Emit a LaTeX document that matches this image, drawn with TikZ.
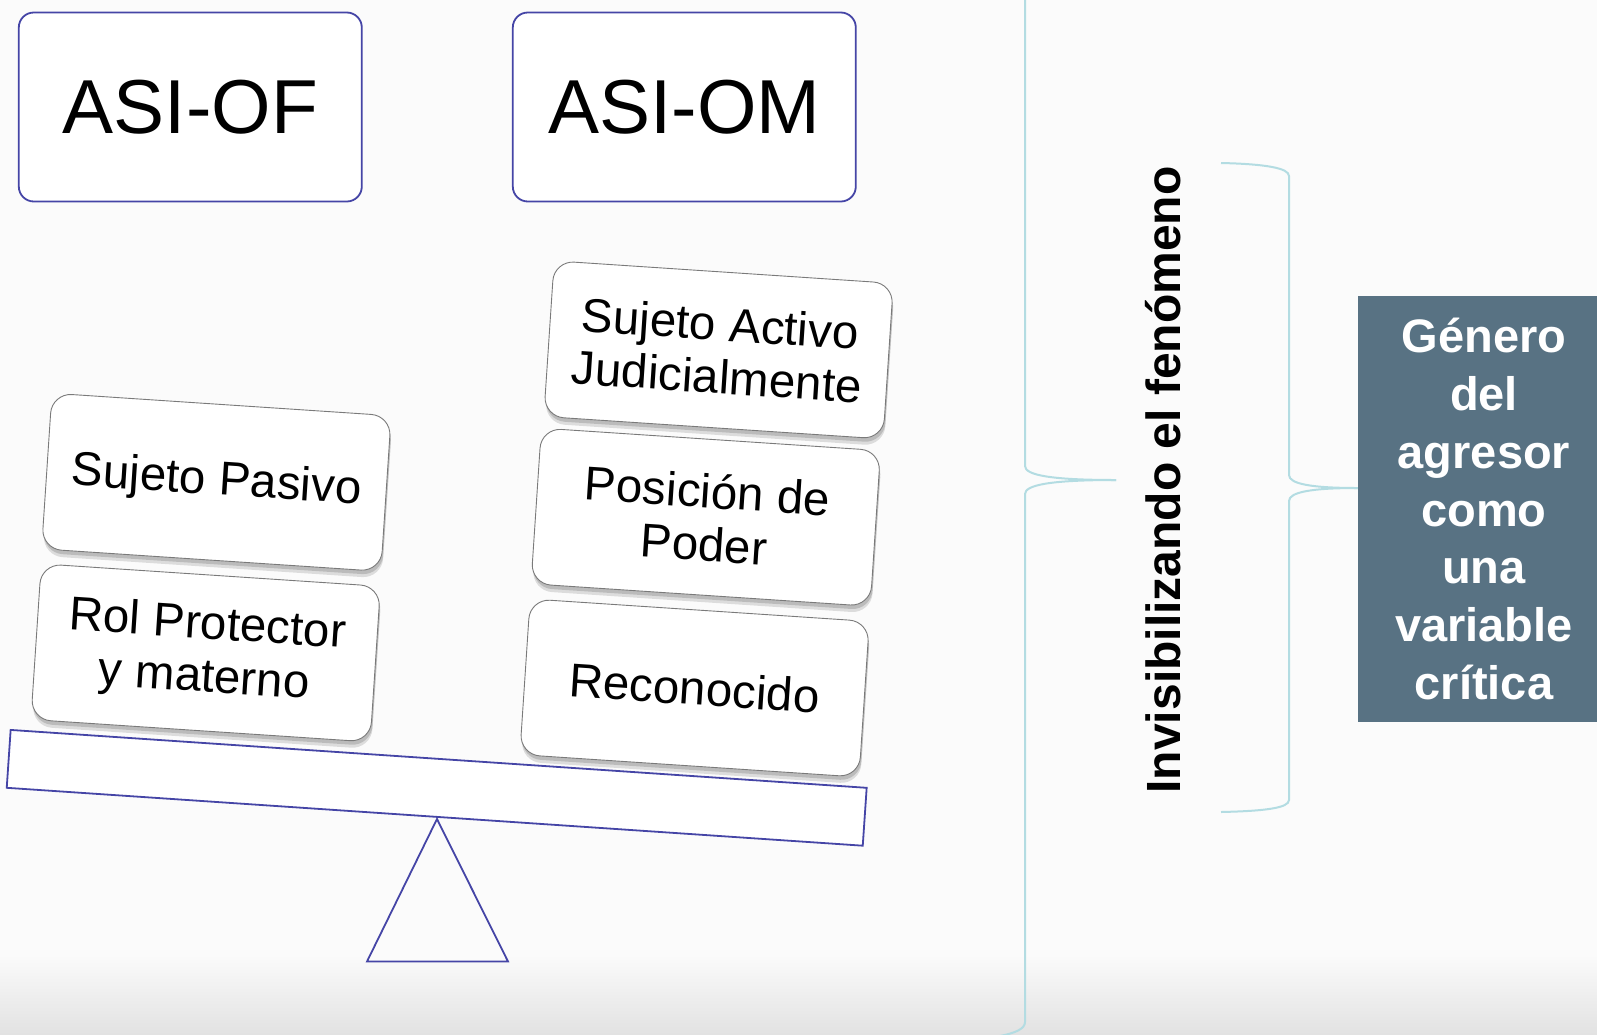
\documentclass[tikz,border=0pt]{standalone}
\usepackage{fontspec}
\setmainfont{Liberation Sans}
\usetikzlibrary{shadows}
\definecolor{bg}{HTML}{FBFBFB}
\definecolor{bgdark}{HTML}{E2E2E2}
\definecolor{seesaw}{HTML}{4545A6}
\definecolor{bracec}{HTML}{B3DCE2}
\definecolor{slate}{HTML}{587283}
\definecolor{wborder}{HTML}{7A7A7A}
\begin{document}
\begin{tikzpicture}[x=1pt,y=-1pt,
  topbox/.style={draw=seesaw, line width=1.8pt, rounded corners=15pt, fill=white,
    minimum width=343pt, minimum height=189pt, inner sep=0pt,
    font=\fontsize{76.5}{90}\selectfont},
  weight/.style={draw=wborder, line width=0.9pt, rounded corners=20pt, fill=white,
    minimum width=340pt, minimum height=156pt, inner sep=0pt, rotate=-3.8,
    align=center, font=\fontsize{47.5}{53}\selectfont,
    preaction={fill=black, opacity=0.12, transform canvas={xshift=1pt, yshift=-7pt}},
    drop shadow={shadow xshift=1pt, shadow yshift=-4pt, opacity=0.35}},
  bracepath/.style={draw=bracec, line width=2pt},
  seesawline/.style={draw=seesaw, line width=1.8pt},
]
\useasboundingbox (0,0) rectangle (1597,1034);
\fill[bg] (0,0) rectangle (1597,1034);
\shade[top color=bg, bottom color=bgdark] (0,955) rectangle (1597,1034);

\begin{scope}
\clip (0,0) rectangle (1597,1034);
% left brace
\coordinate (lbtop) at (1000,-70);
\coordinate (lbtip) at (1116,480);
\coordinate (lbbot) at (1000,1036);
\draw[bracepath] (lbtop) .. controls (1018,-68) and (1025,-64) .. (1025,-56)
  -- (1025,466) .. controls (1025,475) and (1050,480) .. (lbtip);
\draw[bracepath] (lbtip) .. controls (1050,480) and (1025,485) .. (1025,494)
  -- (1025,1022) .. controls (1025,1029) and (1015,1033) .. (lbbot);
% dark box
\node[fill=slate, minimum width=252pt, minimum height=426pt, inner sep=0pt,
  text=white, align=center, font=\bfseries\fontsize{47}{57.7}\selectfont]
  (gbox) at (1484,509) {Género\\del\\agresor\\como\\una\\variable\\crítica};
\end{scope}

% right brace
\coordinate (rbtop) at (1221,163);
\coordinate (rbbot) at (1221,812);
\coordinate (rbtip) at (gbox.west |- 0,488);
\draw[bracepath] (rbtop) .. controls (1265,164) and (1289,168) .. (1289,176)
  -- (1289,475) .. controls (1289,484) and (1312,488) .. (rbtip);
\draw[bracepath] (rbtip) .. controls (1312,488) and (1289,492) .. (1289,501)
  -- (1289,800) .. controls (1289,808) and (1265,811) .. (rbbot);

\node[rotate=90, font=\bfseries\fontsize{48}{58}\selectfont] (inv) at (1163,480)
  {Invisibilizando el fenómeno};

% top boxes
\node[topbox] (asiof) at (190.3,107) {ASI-OF};
\node[topbox] (asiom) at (684.3,107) {ASI-OM};

% seesaw
\coordinate (apex) at (437,819);
\coordinate (baseR) at (508,961.5);
\coordinate (baseL) at (367,961.5);
\draw[seesawline, fill=bg] (apex) -- (baseR) -- (baseL) -- cycle;
\node[seesawline, fill=white, rotate=-3.87, minimum width=858pt, minimum height=58pt,
  inner sep=0pt] (plank) at (436.7,787.8) {};

% weights
\node[weight] (sp) at (216.4,482.3) {Sujeto Pasivo};
\node[weight] (rp) at (205.7,652.9) {Rol Protector\\y materno};
\node[weight] (sa) at (718.6,349.9) {Sujeto Activo\\Judicialmente};
\node[weight] (pp) at (705.8,517.2) {Posición de\\Poder};
\node[weight] (rc) at (694.6,688) {Reconocido};
\end{tikzpicture}
\end{document}
